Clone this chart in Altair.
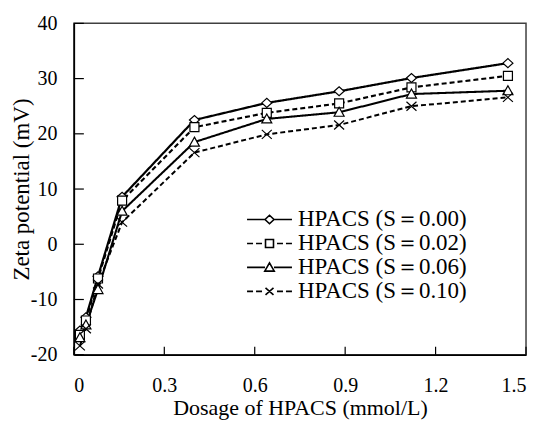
import altair as alt
import pandas as pd

# ---------------- data ----------------
dosage = [0.02, 0.04, 0.08, 0.16, 0.40, 0.64, 0.88, 1.12, 1.44]
series_names = ["HPACS (S＝0.00)", "HPACS (S＝0.02)", "HPACS (S＝0.06)", "HPACS (S＝0.10)"]
zeta_s000 = [-15.6, -13.2, -5.8, 8.6, 22.5, 25.6, 27.7, 30.1, 32.8]
zeta_s002 = [-16.4, -13.8, -6.2, 7.9, 21.2, 23.8, 25.5, 28.4, 30.5]
zeta_s006 = [-16.9, -14.6, -8.2, 6.0, 18.5, 22.7, 23.9, 27.2, 27.8]
zeta_s010 = [-18.4, -15.3, -7.2, 4.0, 16.6, 19.9, 21.6, 25.0, 26.6]
x_ticks = [0, 0.3, 0.6, 0.9, 1.2, 1.5]
y_ticks = [-20, -10, 0, 10, 20, 30, 40]

rows = []
for name, vals in zip(series_names, [zeta_s000, zeta_s002, zeta_s006, zeta_s010]):
    for xv, yv in zip(dosage, vals):
        rows.append({"dosage": xv, "zeta": yv, "series": name})
df = pd.DataFrame(rows)

# ---------------- styles ----------------
W, H = 453, 332
FONT = "Liberation Serif"
dash_range = [[1, 0], [5, 3], [1, 0], [5, 3]]
width_range = [2.2, 2.0, 1.5, 2.0]
marker_paths = [
    "M-1,0L0,-0.9L1,0L0,0.9Z",
    "M-0.9,-0.9L0.9,-0.9L0.9,0.9L-0.9,0.9Z",
    "M0,-1L1,0.8L-1,0.8Z",
    "M-1,-0.9L1,0.9M-1,0.9L1,-0.9",
]
solid = "M-4.5,0L-0.9,0M0.9,0L4.5,0"
dashed = ("M-4.5,0L-3.3,0M-2.7,0L-1.5,0"
          "M1.5,0L2.7,0M3.3,0L4.5,0")
legend_paths = [
    solid + "M-0.9,0L0,-0.85L0.9,0L0,0.85Z",
    dashed + "M-0.8,-0.8L0.8,-0.8L0.8,0.8L-0.8,0.8Z",
    solid + "M0,-0.9L0.95,0.75L-0.95,0.75Z",
    dashed + "M-0.8,-0.7L0.8,0.7M-0.8,0.7L0.8,-0.7",
]

x_enc = alt.X(
    "dosage:Q",
    scale=alt.Scale(domain=[0, 1.5], nice=False, zero=False),
    axis=alt.Axis(
        values=x_ticks, title="Dosage of HPACS (mmol/L)", grid=False,
        ticks=False, tickSize=0, labelPadding=21,
        labelExpr="datum.value == 0 ? '0' : format(datum.value, '.1f')",
        titleY=60, titleBaseline="alphabetic", titleFontSize=22,
        domainColor="black", domainWidth=1.5,
    ),
)
y_enc = alt.Y(
    "zeta:Q",
    scale=alt.Scale(domain=[-20, 40], nice=False, zero=False),
    axis=alt.Axis(
        values=y_ticks, title="Zeta potential (mV)", grid=False,
        ticks=False, tickSize=0, labelPadding=17,
        labelExpr="'' + datum.value",
        titleX=-45, titleY=H / 2, titleAngle=270, titleAlign="center",
        titleBaseline="alphabetic", titleFontSize=23,
        domainColor="black", domainWidth=1.5,
    ),
)

lines = alt.Chart(df).mark_line(color="black").encode(
    x=x_enc, y=y_enc,
    detail="series:N",
    strokeDash=alt.StrokeDash("series:N", scale=alt.Scale(domain=series_names, range=dash_range), legend=None),
    strokeWidth=alt.StrokeWidth("series:N", scale=alt.Scale(domain=series_names, range=width_range), legend=None),
)

points = alt.Chart(df).mark_point(
    filled=True, fill="white", stroke="black", strokeWidth=1.2, size=100, opacity=1
).encode(
    x=x_enc, y=y_enc,
    shape=alt.Shape("series:N", scale=alt.Scale(domain=series_names, range=marker_paths), legend=None),
)

legend_layer = alt.Chart(df).transform_filter("datum.dosage < 0").mark_point(
    filled=False, color="black", strokeWidth=1.6, size=100, opacity=1
).encode(
    x=x_enc, y=y_enc,
    shape=alt.Shape(
        "series:N",
        scale=alt.Scale(domain=series_names, range=legend_paths),
        legend=alt.Legend(
            title=None, orient="none", legendX=184.5, legendY=185,
            symbolSize=100, symbolOffset=0, labelOffset=17, rowPadding=0,
            labelFont=FONT, labelFontSize=23, labelColor="black", labelLimit=0,
            symbolStrokeColor="black", symbolStrokeWidth=1.6,
            padding=0,
        ),
    ),
)

yticks = alt.Chart(pd.DataFrame({"zeta": y_ticks})).mark_rule(color="black", strokeWidth=1.2).encode(
    y=y_enc, x=alt.value(0), x2=alt.value(10)
)
xticks = alt.Chart(pd.DataFrame({"dosage": x_ticks})).mark_rule(color="black", strokeWidth=1.2).encode(
    x=x_enc, y=alt.value(H), y2=alt.value(H - 8)
)

chart = alt.layer(yticks, xticks, lines, points, legend_layer).resolve_scale(
    shape="independent"
).properties(
    width=W, height=H,
    autosize=alt.AutoSizeParams(type="none"),
    padding={"left": 66, "top": 15, "right": 8, "bottom": 65},
).configure_view(
    stroke="#404040", strokeWidth=1.5
).configure_axis(
    labelFont=FONT, labelFontSize=20, labelColor="black",
    titleFont=FONT, titleFontSize=22, titleFontWeight="normal", titleColor="black",
)

chart.save("out.html", embed_options={"renderer": "svg", "actions": False})
